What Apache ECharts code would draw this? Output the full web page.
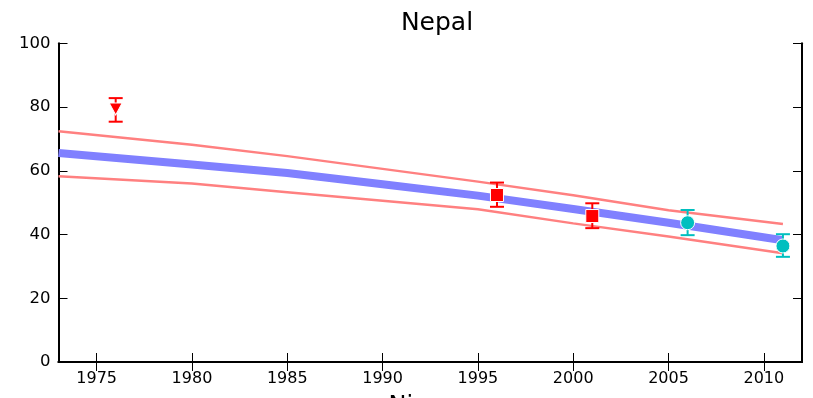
<!DOCTYPE html>
<html><head><meta charset="utf-8">
<script src="https://cdn.jsdelivr.net/npm/echarts@6/dist/echarts.min.js"></script>
<style>html,body{margin:0;padding:0;background:#fff}#c{width:813px;height:398px}</style>
</head><body><div id="c"></div>
<script>
const title = "Nepal";
const xName = "Niveau";
const xTicks = [1975, 1980, 1985, 1990, 1995, 2000, 2005, 2010];
const lineYears = [1973, 1980, 1985, 1990, 1995, 2000, 2005, 2011];
const upperVals = [72.4, 68.2, 64.6, 60.6, 56.6, 52.3, 47.6, 43.3];
const centerVals = [65.6, 62.0, 59.3, 55.8, 52.2, 48.0, 43.7, 38.2];
const lowerVals = [58.3, 56.0, 53.3, 50.6, 47.9, 43.5, 39.4, 34.1];
const triYears = [1976];
const triVals = [79.4];
const triLow = [75.4];
const triHigh = [82.8];
const sqYears = [1996, 2001];
const sqVals = [52.4, 45.8];
const sqLow = [48.7, 42.0];
const sqHigh = [56.3, 49.8];
const ciYears = [2006, 2011];
const ciVals = [43.7, 36.4];
const ciLow = [39.8, 33.0];
const ciHigh = [47.7, 40.1];

const pairs = (xs, ys) => xs.map((x, i) => [x, ys[i]]);
const errData = (xs, lo, hi) => xs.map((x, i) => [x, lo[i], hi[i]]);

function errSeries(data, color) {
  return {
    type: 'custom', z: 3, silent: true,
    renderItem: function (params, api) {
      const x = api.value(0);
      const a = api.coord([x, api.value(1)]);
      const b = api.coord([x, api.value(2)]);
      const w = 7;
      const st = { stroke: color, lineWidth: 2 };
      return { type: 'group', children: [
        { type: 'line', shape: { x1: a[0], y1: a[1], x2: b[0], y2: b[1] }, style: st },
        { type: 'line', shape: { x1: a[0] - w, y1: a[1], x2: a[0] + w, y2: a[1] }, style: st },
        { type: 'line', shape: { x1: b[0] - w, y1: b[1], x2: b[0] + w, y2: b[1] }, style: st }
      ]};
    },
    data: data
  };
}

const font = 'DejaVu Sans';
const axisLine = { show: true, lineStyle: { color: '#000', width: 2 } };
const tickStyle = { show: true, inside: true, length: 9, lineStyle: { color: '#000', width: 1 } };

const chart = echarts.init(document.getElementById('c'));
chart.setOption({
  animation: false,
  title: { text: title, left: 432, top: 6, textAlign: 'center',
    textStyle: { fontFamily: font, fontSize: 25, fontWeight: 'normal', color: '#000' } },
  grid: { left: 58.5, right: 11, top: 43.3, bottom: 36, containLabel: false, outerBoundsMode: 'none' },
  xAxis: [
    { type: 'value', min: 1973, max: 2012, position: 'bottom',
      name: xName, nameLocation: 'middle', nameGap: 33,
      nameTextStyle: { fontFamily: font, fontSize: 24, color: '#000', verticalAlign: 'top' },
      axisLine: axisLine, splitLine: { show: false },
      axisTick: Object.assign({ customValues: xTicks }, tickStyle),
      axisLabel: { customValues: xTicks, formatter: v => String(v), fontFamily: font, fontSize: 16, color: '#000', margin: 9 } },
    { type: 'value', min: 1973, max: 2012, position: 'top',
      axisLine: axisLine, splitLine: { show: false },
      axisTick: Object.assign({ customValues: xTicks }, tickStyle),
      axisLabel: { show: false } }
  ],
  yAxis: [
    { type: 'value', min: 0, max: 100, interval: 20, position: 'left',
      axisLine: axisLine, splitLine: { show: false }, axisTick: tickStyle,
      axisLabel: { fontFamily: font, fontSize: 16.5, color: '#000', margin: 8 } },
    { type: 'value', min: 0, max: 100, interval: 20, position: 'right',
      axisLine: axisLine, splitLine: { show: false }, axisTick: tickStyle,
      axisLabel: { show: false } }
  ],
  series: [
    { type: 'line', data: pairs(lineYears, upperVals), showSymbol: false, z: 1,
      lineStyle: { color: '#ff8080', width: 2.5 } },
    { type: 'line', data: pairs(lineYears, lowerVals), showSymbol: false, z: 1,
      lineStyle: { color: '#ff8080', width: 2.5 } },
    { type: 'line', data: pairs(lineYears, centerVals), showSymbol: false, z: 2,
      lineStyle: { color: '#8080ff', width: 8 } },
    errSeries(errData(triYears, triLow, triHigh), '#ff0000'),
    errSeries(errData(sqYears, sqLow, sqHigh), '#ff0000'),
    errSeries(errData(ciYears, ciLow, ciHigh), '#00bfbf'),
    { type: 'scatter', z: 4, data: pairs(triYears, triVals), symbol: 'triangle', symbolRotate: 180, symbolSize: [13, 12],
      itemStyle: { color: '#ff0000', borderColor: '#fff', borderWidth: 1, opacity: 1 } },
    { type: 'scatter', z: 4, data: pairs(sqYears, sqVals), symbol: 'rect', symbolSize: 13,
      itemStyle: { color: '#ff0000', borderColor: '#fff', borderWidth: 1, opacity: 1 } },
    { type: 'scatter', z: 4, data: pairs(ciYears, ciVals), symbol: 'circle', symbolSize: 14,
      itemStyle: { color: '#00bfbf', borderColor: '#fff', borderWidth: 1, opacity: 1 } }
  ]
});
</script></body></html>
